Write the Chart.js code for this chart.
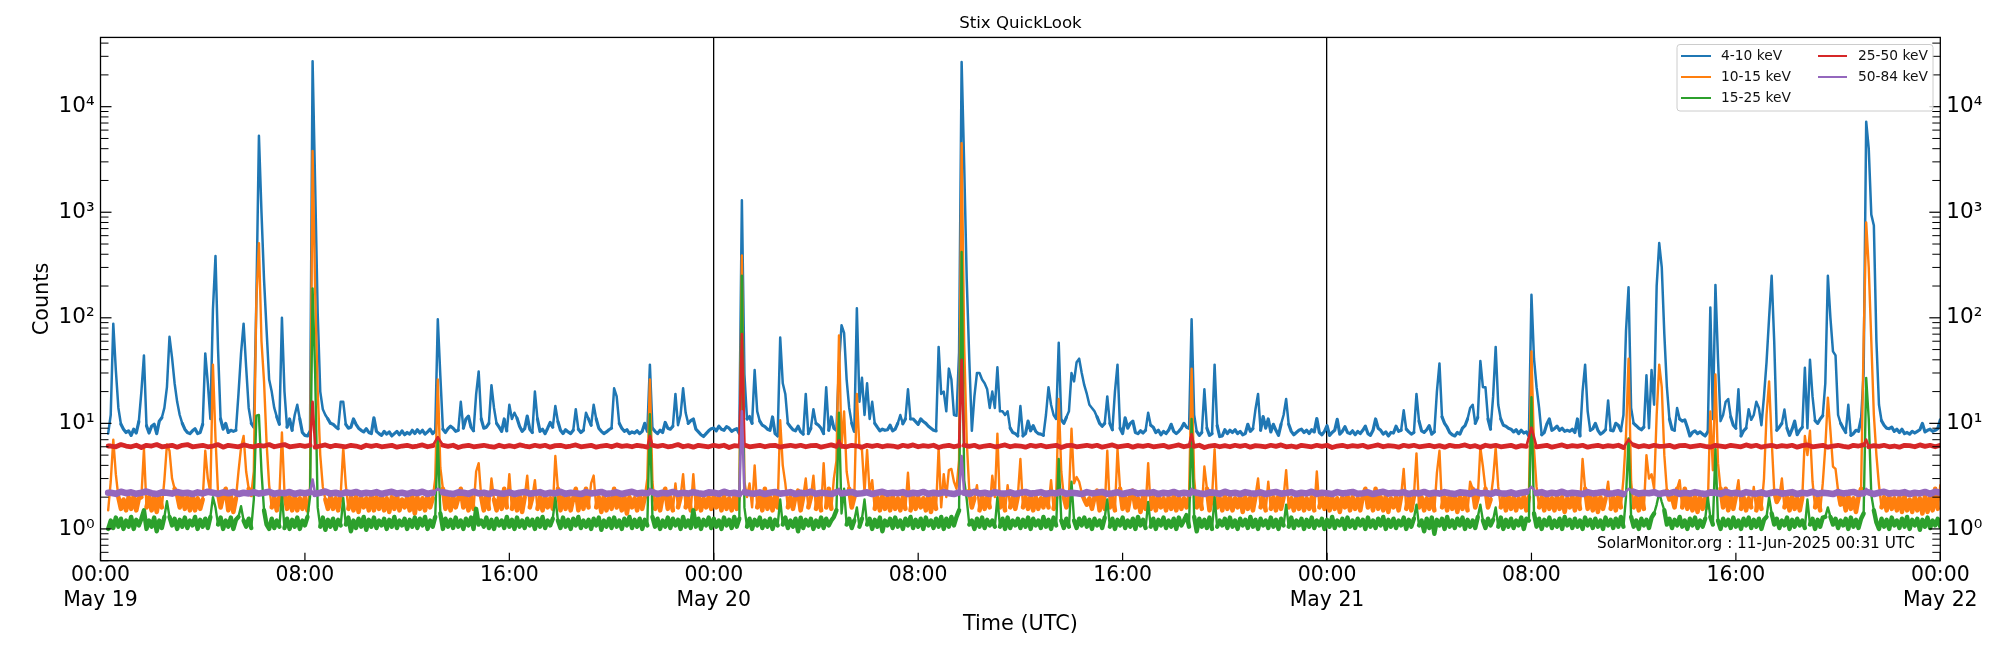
<!DOCTYPE html>
<html><head><meta charset="utf-8">
<style>html,body{margin:0;padding:0;background:#fff}canvas{display:block}</style>
<script src="https://cdn.jsdelivr.net/npm/chart.js@4/dist/chart.umd.min.js"></script>
</head><body><canvas id="c" width="2000" height="650"></canvas>
<script>
const chartTitle="Stix QuickLook", xTitle="Time (UTC)", yTitle="Counts";
const footNote="SolarMonitor.org : 11-Jun-2025 00:31 UTC";
const seriesNames=["4-10 keV","10-15 keV","15-25 keV","25-50 keV","50-84 keV"];
const seriesColors=["#1f77b4","#ff7f0e","#2ca02c","#d62728","#9467bd"];
const xTickHours=[0,8,16,24,32,40,48,56,64,72];
const xTickTimes=["00:00","08:00","16:00","00:00","08:00","16:00","00:00","08:00","16:00","00:00"];
const xTickDates=["May 19","","","May 20","","","May 21","","","May 22"];
const dayLineHours=[24,48];
const yTickValues=[1,10,100,1000,10000];
const yTickLabels=["10⁰","10¹","10²","10³","10⁴"];
const yMinorTicks=[.5,.6,.7,.8,.9,2,3,4,5,6,7,8,9,20,30,40,50,60,70,80,90,200,300,400,500,600,700,800,900,2000,3000,4000,5000,6000,7000,8000,9000,20000,30000,40000];
// one row per hour, 0.1 h apart
const blueCounts=[
null,null,null,8,12,88,32,14,9.8,8.8,
8.2,8.5,7.7,8.8,8.1,10.4,20,44,9.5,8.1,
9.4,9.8,8,10.5,11.3,14,22,66,42,24,
16,12,10,8.8,8.2,8,8.5,8.9,8,8.2,
9.8,46,24,11,120,385,50,11,8.8,10,
8.2,8.6,8.4,8.6,19,46,88,34,14,10,
9.2,150,5300,1000,230,76,26,20,14,11.5,
9.8,100,20,9.2,11,8.6,12,15,11,8.2,
7.7,7.6,8.4,27000,1800,110,20,13.6,12,11,
10,9.8,9.3,8.9,16,16,9.8,9,9.2,11,
9.8,9,8.6,8.3,8.9,8.2,8,11.3,8.4,8,
7.7,8.4,7.9,8.3,7.6,8,8.4,7.8,8.5,7.8,
8.2,7.9,8.6,8,8.7,8.1,8.6,7.9,8.3,8.8,
8,8.5,97,28,8.8,8.2,8.9,9.4,9,8.4,
8.6,16,9,11,11.7,9.2,8.5,18.8,31,11,
9,9.2,10,23,14,10,9.2,8.4,11,8.5,
15,11,12.6,11.2,9.4,8.4,8.9,11.7,8.8,8.2,
20,11,8.4,8.8,8,9,10.2,9.2,14.6,10.4,
8.6,8,8.7,8.3,8,8.6,13.6,8.8,8.2,8.6,
12.6,11,9.6,15,11,9,8.4,8,8.3,8.7,
9,21.5,18,10,9,8.4,8.7,8,8.3,8.1,
8.5,8,8.4,10,8.4,36,9,8.4,8,8.6,
8.2,10.2,9,8.8,9.4,19,9.6,12,21.5,12.6,
10,10.6,11,8.8,8.3,7.8,7.5,8,8.5,8.9,
9,8.5,9.4,8.8,8.6,9.3,9,8.4,8.7,8.9,
8,1300,29,11,11.6,10,32,13,10.5,9.6,
9.3,8.8,8.6,11.5,8,7.6,65,24,19,10,
9.3,8.7,8.5,9.4,8.3,7.9,19,8,9,13.6,
10,9.6,9,8,22,8.6,11.5,9,8.6,36,
85,72,26,14,10,8.4,123,16,27,12,
24,11,16,10,9.2,8.5,8.8,8.6,8.7,9.6,
8.5,8.8,10,12,9.9,11,21,11,11,10.4,
9.8,11,10.4,10,9.4,9,8.6,8.5,53,19,
20,13,33,26,12,11.8,47,26500,2800,230,
40,8.5,18,30,30,26,24,21,14,20,
14,34,13,13,12,13,9,8.2,8,7.6,
14.6,7.6,8,10.5,8.5,9.5,8.4,8,7.9,7.7,
12,22,15,12,11,58,10.8,10,11.4,13,
30,25,38,41,30,23,19,15,14,13,
11.5,10,9.4,10,18,10,8.7,20,36,9,
8,11.3,9,10,10.5,8.2,8,8.5,8.1,8.6,
12.6,9.6,9.2,8.2,8.6,7.8,8.4,8,8.6,9.8,
8.4,8,8.4,9,10,9.2,9,97,12,8.4,
7.7,8.2,21,9,7.7,8,36,9.5,7.5,7.6,
8.7,8,8.6,8.2,8.7,8,8.4,7.8,8,9.8,
8.4,8.9,13.6,19,8.6,11.6,9,11,8.3,9.8,
8.6,7.7,9.8,12,17,9.8,8.4,7.8,8.2,8.6,
8.8,8.2,8.6,8,8.7,8.3,11.1,8.2,7.8,8.4,
9.5,7.7,8.2,8.6,10.9,7.9,8.4,9.3,8.2,8,
8.5,7.8,8.4,8,8.6,9.4,8,7.7,8.6,11,
9,8.6,7.9,8.3,7.6,8.2,8.1,9.4,8.4,8.6,
13.3,8.8,8.3,7.9,8.2,19,10.5,8.5,8.2,8.7,
9.5,7.9,8.3,20,37,11.5,10,9.2,8.2,7.8,
7.6,8.2,7.9,9,9.5,11,14,15,10,11.4,
39,22,22,11,8.8,18,53,15,11,9.6,
9.4,9,8.8,8.3,8.7,8,8.6,8.1,8.3,7.6,
165,41,22,14,7.8,8.2,9.8,11,8.6,8.9,
9.4,8.6,9,8.4,8.6,8.4,8.8,8.2,11,7.6,
20,36,13,8.6,8.9,10,8.6,7.9,8.2,8.7,
16.5,8.6,8.5,10,9.6,8.5,12,75,195,14,
10,9.5,9,8.7,9.2,28.5,9,32,15,200,
510,300,70,22,11,8.8,8.6,14,11,10.5,
10.8,9.2,7.6,8.2,8.5,8,8.3,7.9,7.6,8.3,
125,11,205,41,10.5,12,16,17,11.5,9.6,
9,21,7.6,8.5,9,13.6,10.8,12,16,14,
9.6,18,38,100,250,60,8.6,9.2,10,13.5,
9,7.7,8.8,10.5,7.8,8.6,9.2,33.6,9,40,
18,10.6,10,11,11.8,24,250,100,48,44,
12,10,9,8.2,15,7.7,8,8.6,8.4,11,
30,7200,4000,950,750,60,15,10.6,9.6,9,
8.9,9.2,8.4,8.8,8.2,8.8,8,8.2,7.9,8.4,
8.1,8.4,8.7,10,8.3,8.6,8.8,8.4,8.6,8.9,
10.8];
const orangeCounts=[
null,null,null,1.5,2.8,7,3.3,2,1.55,1.9,
1.5,2,1.55,2.05,1.5,1.95,2,5.7,1.6,2,
1.5,2.05,1.45,2,1.6,2.9,6.3,5.5,3,2.4,
2.1,1.6,2.05,1.55,2,1.5,2.05,1.5,1.95,1.55,
1.9,5.5,3,2.2,36,7.3,2.2,1.6,2.05,2.4,
1.5,2.05,1.45,1.95,3.5,5.9,7.6,3.5,2.4,2.1,
3.5,150,510,60,25,6.5,2.6,1.6,2,1.5,
2,8.2,2.2,1.55,2,1.5,2.05,1.5,1.95,1.55,
2,1.5,2.5,3800,180,20,5,2.5,1.9,1.55,
2.05,1.55,1.95,1.5,2.1,5.9,2.6,1.55,2,1.5,
2.05,1.45,2,1.6,1.95,1.5,2.1,1.5,2,1.55,
2.05,1.5,1.95,1.45,2,1.55,2.1,1.5,1.9,1.6,
2,1.5,2.05,1.4,2,1.55,1.95,1.5,2.05,1.6,
1.95,3,26,3.8,2.4,1.55,2,1.5,2.05,1.6,
1.95,2.4,1.6,2,1.5,2.05,1.55,3.5,4.2,2,
1.5,2.05,1.55,3,1.9,1.5,2,1.55,2.4,1.6,
3.3,1.55,2,1.5,2.05,1.45,2,3.2,1.6,2,
2.9,1.55,2,1.5,2.05,1.6,1.95,1.55,4.9,2.4,
1.5,2,1.55,2.05,1.5,1.95,2.4,1.5,2,1.55,
2.4,1.6,2.7,3.2,1.6,2,1.45,2.05,1.5,1.95,
1.55,2.4,1.6,2,1.5,2.05,1.4,2,1.6,1.95,
1.5,2.05,1.55,2,3,26,2.8,1.55,2,1.5,
2.05,2.4,1.55,2,1.5,2.7,1.6,2,3.3,1.6,
2,1.5,3.3,1.55,2.05,1.5,1.95,1.6,2,1.55,
2.05,1.6,2,1.5,2.05,1.55,1.95,1.5,2,1.55,
2.2,390,2.8,2,2.7,1.6,4,1.6,2,1.5,
2.4,1.55,2,1.5,2.05,1.6,10.7,4,2.7,1.6,
2,1.55,2.05,2.3,1.5,2,3,1.6,2,3.2,
1.55,2,1.5,4.2,1.6,2.4,1.55,3,4.4,68,
5.9,13,3.5,2.4,1.6,2,19,5.9,5.6,2.2,
5.6,2.2,2.9,1.55,2,1.5,2.05,1.55,2,1.5,
2.05,1.55,1.95,1.5,2,1.55,3.4,1.5,2.05,1.55,
2,1.6,1.95,1.5,2.05,1.45,2,1.55,5.9,1.6,
3.3,2,3.6,3.7,2.8,2.4,4.5,4500,56,6.8,
2.3,1.6,1.95,2.6,1.5,2.05,1.55,2,1.6,3.2,
2,8,1.6,2.05,1.5,2.6,1.6,2,1.55,2.05,
4.6,1.6,2,1.55,2.05,1.5,2,1.55,1.95,1.6,
2.2,1.6,2.9,1.55,2,17,3.5,2,1.6,2,
8.9,2.7,3.1,2.8,2.2,1.9,1.7,1.95,1.55,2,
2.3,1.5,2.05,1.55,5.5,1.6,2,1.5,5.7,2.4,
1.55,2,1.5,2.05,2.3,1.6,1.95,1.45,2,1.55,
4.2,1.55,2,1.5,2.05,1.6,1.95,1.5,2,1.55,
2.05,1.5,2,1.55,1.95,1.6,2,33,3,1.6,
2,1.55,3.9,2.4,1.5,2,5.7,1.6,1.95,1.5,
2.05,1.55,2,1.5,1.95,1.6,2.05,1.45,2,1.55,
2,1.5,2.05,3,1.6,2,1.5,2.8,1.55,2,
1.5,2.05,1.55,2,3.6,1.6,1.95,1.5,2,1.55,
2.05,1.5,1.95,1.55,2,1.5,3.5,1.6,2,1.55,
2.05,1.5,2,1.55,1.95,1.45,2,1.6,2.05,1.5,
2,1.55,1.95,1.5,2.05,2.4,1.6,2,1.5,2.4,
1.55,2,1.5,2.05,1.45,1.95,1.6,2,1.5,2.05,
3.7,1.55,2,1.5,2.05,5.2,1.6,2,1.5,1.95,
1.55,2.05,1.5,3.4,5.5,1.6,2,1.5,2.05,1.55,
2,1.45,2,1.55,2.05,1.5,2.8,2.4,1.6,2,
5.9,3.9,2.4,1.6,1.9,3,5.9,2.5,1.6,2,
1.5,2.05,1.55,2,1.5,1.95,1.6,2.05,1.5,2,
48,5.7,2.5,1.6,2,1.5,2.05,1.55,1.95,1.5,
2.05,1.55,2,1.45,1.95,1.6,2.05,1.5,2,1.55,
4.6,2.4,1.55,2,1.5,2.05,1.45,2,1.55,1.95,
2.8,1.55,2,1.5,2.05,1.6,3,7.6,41,2.8,
1.6,2,1.5,2.05,1.55,5,3,3.3,2.4,12,
36,22,5,2.3,1.9,2,1.6,2.4,2.9,1.6,
2.4,1.55,2,1.5,2.05,1.45,2,1.55,1.95,1.6,
13,3.6,29,4.2,2.4,1.6,2.4,1.5,2,1.55,
2.05,2.9,1.55,2,1.5,1.95,1.6,2.5,1.5,2.05,
1.55,3,12,25,7,2.3,1.8,2,3,1.6,
2,1.5,2.05,1.55,1.95,1.5,2,7.6,5,8.5,
2.8,1.6,2,1.5,2.7,6,17.5,8.5,3.9,3.7,
2.3,1.7,2,1.5,2.05,1.55,1.95,1.45,2,2.4,
60,800,300,60,12,5,2.6,1.6,2,1.5,
2.05,1.55,1.95,1.5,2,1.45,2.05,1.5,1.9,1.45,
2,1.5,1.95,1.4,2.05,1.45,2,1.5,2.4,1.55,
2.6];
const greenCounts=[
null,null,null,1,1.2,1.02,1.28,1.05,1.25,1,
1.2,1.05,1.3,1,1.22,1.08,1.25,1.5,1,1.2,
1.05,1.28,.95,1.2,1.02,1.3,1.83,1.3,1.08,1.25,
1,1.22,1.05,1.28,1.02,1.2,1.08,1.3,1,1.22,
1.05,1.25,1.02,1.3,2,1.6,1.1,1.28,1,1.2,
1.05,1.28,1,1.22,1.3,1.64,1.2,1.05,1.25,1.02,
1.9,11.8,12,3.5,1.5,1.1,1,1.25,1.02,1.2,
1.05,2.1,1.02,1.25,1,1.22,1.05,1.28,1,1.2,
1.08,1.3,2,190,30,1.6,1.05,1.28,.98,1.22,
1.05,1.25,1,1.22,1.08,1.97,1.1,1.28,.95,1.2,
1.02,1.25,1.05,1.3,.98,1.22,1.05,1.28,1.02,1.2,
1.08,1.25,1,1.22,1.05,1.3,1.02,1.2,1.08,1.25,
1,1.22,1.05,1.28,1.02,1.25,1.08,1.3,1,1.2,
1.05,1.3,7.3,1.4,1,1.25,1.05,1.22,1.02,1.28,
1.05,1.2,1,1.25,1.08,1.28,1,1.55,1.1,1.2,
1.05,1.28,1.02,1.22,1,1.25,1.08,1.2,1.02,1.3,
1.05,1.22,1,1.28,1.05,1.2,1.02,1.25,1.08,1.22,
1,1.25,1.05,1.3,1.02,1.2,1.08,1.25,2,1.2,
1.02,1.28,1.05,1.22,1,1.25,1.08,1.3,1.02,1.2,
1.05,1.22,1,1.25,1.08,1.28,.98,1.2,1.05,1.25,
1.02,1.28,1.05,1.2,1,1.25,1.08,1.3,1.02,1.22,
1.05,1.25,1,1.22,1.08,12.2,1.3,1.05,1.25,1,
1.2,1.05,1.28,1.02,1.25,1.08,1.22,1,1.3,1.05,
1.2,1.02,1.5,1.05,1.25,1,1.22,1.08,1.28,1.02,
1.25,1.05,1.2,1,1.28,1.08,1.22,1.02,1.3,1.05,
1.25,250,1.6,1.05,1.25,1,1.22,1.08,1.28,1.02,
1.2,1.05,1.25,1,1.22,1.08,1.9,1.1,1.28,1.02,
1.2,1.05,1.25,.95,1.28,1.02,1.22,1.08,1.25,1,
1.2,1.05,1.28,1.02,1.25,1.08,1.2,1.3,1.5,12.6,
1.4,2.4,1.1,1.25,1.02,1.2,1.6,1.05,1.25,1.9,
1.1,1.25,1,1.22,1.05,1.28,.95,1.2,1.08,1.25,
1.02,1.28,1.05,1.2,1,1.25,1.08,1.3,1.02,1.22,
1.05,1.25,1,1.28,1.08,1.2,1.02,1.25,1.05,1.3,
1,1.25,1.05,1.3,1.08,1.3,1.5,420,2.9,1.9,
1.1,1.2,1,1.25,1.05,1.28,1.02,1.22,1.08,1.2,
1.05,2,1.05,1.25,1,1.28,1.02,1.2,1.08,1.25,
1.02,1.22,1.05,1.28,1,1.25,1.08,1.2,1.02,1.3,
1.05,1.22,1,1.28,1.08,4.6,1.2,1.02,1.25,1.05,
2.8,1.2,1.02,1.25,1.08,1.28,1.05,1.22,1,1.25,
1.08,1.2,1.02,1.28,1.9,1.05,1.25,1,1.22,1.08,
1.28,1.02,1.2,1.05,1.25,1,1.3,1.08,1.22,1.02,
1.8,1.05,1.25,1,1.22,1.08,1.28,1.02,1.2,1.05,
1.25,1,1.28,1.08,1.2,1.35,1.05,11,1.3,.95,
1.25,1.05,1.22,1.02,1.28,1,2,1.05,1.2,1.08,
1.25,1.02,1.28,1.05,1.2,1,1.25,1.08,1.22,1.02,
1.3,1.05,1.22,1,1.25,1.08,1.2,1.02,1.28,1.05,
1.22,1,1.25,1.08,1.7,1.05,1.28,1.02,1.2,1.08,
1.25,1,1.22,1.05,1.28,1.02,1.2,1.08,1.25,1,
1.22,1.05,1.3,1.02,1.2,1.08,1.25,1,1.28,1.05,
1.2,1.02,1.25,1.08,1.22,1,1.28,1.05,1.2,1.02,
1.25,1.08,1.3,1,1.22,1.05,1.25,1.02,1.2,1.08,
1.28,1,1.22,1.05,1.25,1.7,1.08,1.2,.95,1.25,
1.02,1.28,.9,1.22,1.08,1.25,1,1.3,1.05,1.2,
1.02,1.25,1.08,1.28,1,1.22,1.05,1.2,1.02,1.3,
1.7,1.2,1.02,1.25,1.08,1.22,1.6,1.05,1.28,1,
1.22,1.05,1.25,1.02,1.2,1.08,1.28,1,1.25,1.2,
17.7,1.4,1.05,1.25,1,1.22,1.08,1.28,1.02,1.2,
1.05,1.25,1,1.3,1.08,1.22,1.02,1.25,1.05,1.2,
1,1.28,1.08,1.22,1.02,1.25,1.05,1.2,1,1.28,
1.08,1.22,1.02,1.25,1.05,1.3,1.05,2,7.2,1.3,
1.05,1.2,1,1.25,1.08,1.22,1.02,1.28,1.4,1.7,
2.2,1.8,1.5,1.1,1.25,1.02,1.22,1.08,1.3,1.05,
1.2,1,1.25,1.08,1.28,1.02,1.2,1.05,1.25,2,
1.3,1.1,5.7,1.2,1,1.25,1.08,1.22,1.02,1.28,
1.05,1.2,1,1.25,1.08,1.28,1.02,1.22,1.05,1.25,
1,1.22,1.3,2,1.4,1.1,1.25,1.02,1.2,1.08,
1.28,1,1.22,1.05,1.25,1.08,1.2,1.02,1.9,1.1,
1.25,1,1.22,1.05,1.28,1.3,1.6,1.3,1.1,1.25,
1.02,1.2,1.08,1.25,1,1.28,1.05,1.22,1.02,1.25,
1.4,27,11,2.1,1.5,1.15,1,1.25,1.05,1.22,
1,1.28,1.08,1.2,1.02,1.25,1.05,1.3,1,1.22,
1.08,1.25,.98,1.22,1.05,1.28,1.02,1.2,1.08,1.25,
1.05];
// one row per hour, 0.2 h apart; peaks are listed apart
const redCounts=[
null,null,6.1,6,6.3,6.1,6,6.2,5.9,6.2,6.1,6.3,6,6.1,6.2,5.95,6.2,6.3,6,6.1,
6.2,6,6.1,6.3,5.95,6.2,6.1,6,6.25,6.1,6,6.2,6.1,6.3,6,6.15,6.3,6,6.1,6.2,
6.05,6.2,5.95,6.1,6.25,6,6.2,6.1,6,6.2,6.1,5.9,6.2,6.05,6.2,6,6.1,6.2,5.95,6.1,
6.2,6,6.1,6.25,6,6.15,6,6.2,6.05,6.2,5.9,6.1,6.2,6,6.1,6.2,6.05,5.95,6.2,6,
6.15,6,6.25,6.1,6,6.2,6.05,6.2,5.95,6.15,6.2,6,6.1,6.25,6,6.1,6.2,5.95,6.1,6.2,
6,6.25,6.05,6.15,6,6.2,6.1,5.95,6.2,6.05,6.2,6,6.1,6.3,6,6.15,5.95,6.2,6.1,6,
6.2,6.05,6.2,5.9,6.15,6.1,6.25,6,6.1,6.2,6,6.15,6.2,5.95,6.1,6.2,6.05,6.2,6,6.15,
6.2,5.95,6.1,6.25,6.05,6.1,6,6.2,6.1,5.95,6.2,6.05,6.2,6,6.15,6.1,5.95,6.2,6.05,6.25,
6,6.15,6.05,6.2,5.9,6.1,6.2,6,6.15,6.2,6.05,6.2,5.95,6.1,6.2,6,6.1,6.25,6,6.15,
6.1,5.95,6.2,6.05,6.2,6,6.1,6.2,5.9,6.15,6.2,6,6.1,6.2,6.05,6.2,5.95,6.1,6.25,6,
6.1,6.2,5.95,6.15,6.05,6.2,6,6.1,6.2,5.95,6.1,6.25,6,6.15,6.05,6.2,5.9,6.1,6.2,6,
6.15,6,6.2,6.05,6.2,5.95,6.15,6.1,6,6.2,6.05,6.25,6,6.1,5.95,6.2,6.1,6,6.2,6.05,
6.2,5.9,6.1,6.2,6,6.15,6.05,6.2,5.95,6.1,6.25,6,6.15,6.1,5.95,6.2,6.05,6.2,6,6.1,
6.2,6,6.15,5.95,6.2,6.05,6.1,6.25,6,6.15,5.9,6.2,6.05,6.2,6,6.1,6.2,5.95,6.15,6.05,
6.2,6,6.1,6.2,5.95,6.1,6.25,6,6.15,6.05,6.2,5.95,6.1,6.2,6,6.15,6.05,6.2,5.9,6.1,
6.25,6,6.15,6,6.2,6.05,6.1,6.2,5.95,6.15,6.2,6,6.1,6.2,6.05,5.95,6.2,6.1,6,6.2,
6.1,6,6.25,6.05,6.2,5.95,6.1,6.2,6,6.15,6.05,6.2,5.95,6.15,6.25,6,6.1,6.2,5.95,6.1,
6.2,6.05,5.95,6.2,6.1,6.25,6,6.15,6.05,6.2,6,6.1,5.95,6.2,6.15,6,6.25,6.05,6.2,6,
6.2];
const redPeakHours=[0.3,8.3,13.2,21.5,25.1,28.9,33.7,42.7,56,59.8,69.1];
const redPeakCounts=[6.1,16,7.4,7.6,70,6.9,40,7.9,9.1,7,7];
const purpleCounts=[
null,null,2.2,2.15,2.25,2.18,2.22,2.15,2.2,2.26,2.18,2.14,2.22,2.2,2.16,2.24,2.18,2.2,2.14,2.22,
2.17,2.25,2.2,2.15,2.22,2.18,2.24,2.14,2.2,2.17,2.23,2.16,2.2,2.25,2.15,2.2,2.18,2.24,2.14,2.21,
2.18,2.23,2.15,2.2,2.26,2.16,2.2,2.14,2.22,2.18,2.24,2.15,2.2,2.17,2.23,2.14,2.2,2.25,2.16,2.2,
2.14,2.22,2.18,2.25,2.15,2.2,2.16,2.23,2.18,2.14,2.22,2.2,2.15,2.25,2.17,2.2,2.14,2.23,2.18,2.16,
2.22,2.14,2.2,2.24,2.16,2.19,2.23,2.14,2.2,2.17,2.25,2.15,2.2,2.18,2.14,2.23,2.17,2.2,2.24,2.15,
2.18,2.22,2.14,2.2,2.25,2.16,2.2,2.18,2.23,2.14,2.2,2.17,2.24,2.15,2.2,2.16,2.23,2.18,2.14,2.22,
2.2,2.15,2.25,2.17,2.2,2.14,2.23,2.18,2.16,2.22,2.14,2.2,2.24,2.16,2.19,2.23,2.14,2.2,2.17,2.25,
2.15,2.2,2.18,2.14,2.23,2.17,2.2,2.24,2.15,2.18,2.22,2.14,2.2,2.25,2.16,2.2,2.18,2.23,2.14,2.2,
2.17,2.24,2.15,2.2,2.16,2.23,2.18,2.14,2.22,2.2,2.15,2.25,2.17,2.2,2.14,2.23,2.18,2.16,2.22,2.14,
2.2,2.24,2.16,2.19,2.23,2.14,2.2,2.17,2.25,2.15,2.2,2.18,2.14,2.23,2.17,2.2,2.24,2.15,2.18,2.22,
2.14,2.2,2.25,2.16,2.2,2.18,2.23,2.14,2.2,2.17,2.24,2.15,2.2,2.16,2.23,2.18,2.14,2.22,2.2,2.15,
2.25,2.17,2.2,2.14,2.23,2.18,2.16,2.22,2.14,2.2,2.24,2.16,2.19,2.23,2.14,2.2,2.17,2.25,2.15,2.2,
2.18,2.14,2.23,2.17,2.2,2.24,2.15,2.18,2.22,2.14,2.2,2.25,2.16,2.2,2.18,2.23,2.14,2.2,2.17,2.24,
2.15,2.2,2.16,2.23,2.18,2.14,2.22,2.2,2.15,2.25,2.17,2.2,2.14,2.23,2.18,2.16,2.22,2.14,2.2,2.24,
2.16,2.19,2.23,2.14,2.2,2.17,2.25,2.15,2.2,2.18,2.14,2.23,2.17,2.2,2.24,2.15,2.18,2.22,2.14,2.2,
2.25,2.16,2.2,2.18,2.23,2.14,2.2,2.17,2.24,2.15,2.2,2.16,2.23,2.18,2.14,2.22,2.2,2.15,2.25,2.17,
2.2,2.14,2.23,2.18,2.16,2.22,2.14,2.2,2.24,2.16,2.19,2.23,2.14,2.2,2.17,2.25,2.15,2.2,2.18,2.14,
2.23,2.17,2.2,2.24,2.15,2.18,2.22,2.14,2.2,2.25,2.16,2.2,2.18,2.23,2.14,2.2,2.17,2.24,2.15,2.25,
2.2];
const purplePeakHours=[0.3,8.3,13.2,21.5,25.1,28.9,33.7,42.7,56,59.8,69.1];
const purplePeakCounts=[2.2,2.94,2.4,2.4,13,2.4,4.9,2.4,2.5,2.4,2.4];

const FONT="'DejaVu Sans'";
function onGrid(values,step){return values.map((y,i)=>({x:Math.round(i*step*10)/10,y}));}
function withPeaks(points,hours,counts){
  const byHour=new Map(points.filter(p=>p.y!==null).map(p=>[p.x,p.y]));
  hours.forEach((h,i)=>byHour.set(h,counts[i]));
  return [...byHour.entries()].sort((a,b)=>a[0]-b[0]).map(([x,y])=>({x,y}));
}
const seriesData=[
  onGrid(blueCounts,0.1),onGrid(orangeCounts,0.1),onGrid(greenCounts,0.1),
  withPeaks(onGrid(redCounts,0.2),redPeakHours,redPeakCounts),
  withPeaks(onGrid(purpleCounts,0.2),purplePeakHours,purplePeakCounts)];
// line width inside the noise band and on the flares
const bandLimits=[12,2.45,1.6,6.6,2.32];
const bandWidths=[3.2,4.6,4.4,4.8,6.6];
const flareWidths=[2.5,2.4,2.4,2.6,2.6];

const frameAndTicks={id:'frameAndTicks',afterDatasetsDraw(chart){
  const {ctx,chartArea:a,scales}=chart;
  ctx.save();ctx.strokeStyle='#000';
  const mark=(x1,y1,x2,y2,w)=>{ctx.lineWidth=w;ctx.beginPath();ctx.moveTo(x1,y1);ctx.lineTo(x2,y2);ctx.stroke();};
  yTickValues.forEach(v=>{const y=scales.y.getPixelForValue(v);mark(a.left,y,a.left+11,y,1.2);mark(a.right,y,a.right-11,y,1.2);});
  yMinorTicks.forEach(v=>{const y=scales.y.getPixelForValue(v);mark(a.left,y,a.left+8,y,1);mark(a.right,y,a.right-8,y,1);});
  xTickHours.forEach(h=>{const x=scales.x.getPixelForValue(h);mark(x,a.bottom,x,a.bottom-8,1.2);});
  ctx.lineWidth=1.3;ctx.strokeRect(a.left,a.top,a.right-a.left,a.bottom-a.top);
  ctx.restore();
},afterDraw(chart){
  const {ctx}=chart;ctx.save();
  ctx.font='15.25px '+FONT;ctx.fillStyle='#000';ctx.textAlign='left';ctx.textBaseline='middle';
  ctx.fillText(footNote,1597,544);
  ctx.beginPath();ctx.roundRect(1677,44.5,256,66.5,3);
  ctx.fillStyle='rgba(255,255,255,0.8)';ctx.fill();ctx.strokeStyle='#cccccc';ctx.lineWidth=1;ctx.stroke();
  ctx.font='13.8px '+FONT;
  const cols=[[1681,1711,1721],[1818,1847,1858]],rows=[56,77,98];
  seriesNames.forEach((n,i)=>{
    const c=cols[i<3?0:1],y=rows[i<3?i:i-3];
    ctx.strokeStyle=seriesColors[i];ctx.lineWidth=2;ctx.beginPath();ctx.moveTo(c[0],y);ctx.lineTo(c[1],y);ctx.stroke();
    ctx.fillStyle='#111';ctx.fillText(n,c[2],y+0.5);
  });
  ctx.restore();
}};

new Chart(document.getElementById('c'),{
  type:'line',
  data:{datasets:seriesNames.map((label,i)=>({
    label,data:seriesData[i],borderColor:seriesColors[i],backgroundColor:seriesColors[i],
    borderWidth:bandWidths[i],pointRadius:0,tension:0,borderJoinStyle:'round',borderCapStyle:'round',spanGaps:false,order:5-i,
    segment:{borderWidth:c=>(c.p0.parsed.y<bandLimits[i]&&c.p1.parsed.y<bandLimits[i])?bandWidths[i]:flareWidths[i]}
  }))},
  options:{
    responsive:false,devicePixelRatio:1,animation:false,
    layout:{padding:0},
    plugins:{
      legend:{display:false},tooltip:{enabled:false},
      title:{display:true,text:chartTitle,fullSize:false,color:'#000',font:{family:FONT,size:16.6,weight:'normal'},padding:{top:14,bottom:3.5}}
    },
    scales:{
      x:{type:'linear',min:0,max:72,
        afterBuildTicks(s){s.ticks=xTickHours.map(v=>({value:v}));},
        afterFit(s){s.height=89.3;},
        border:{display:false},
        grid:{drawTicks:false,lineWidth:1.3,color:c=>c.tick&&dayLineHours.includes(c.tick.value)?'#000':'rgba(0,0,0,0)'},
        ticks:{autoSkip:false,maxRotation:0,padding:3,color:'#000',font:{family:FONT,size:20.4},
          callback(v){const i=xTickHours.indexOf(v);return xTickDates[i]?[xTickTimes[i],xTickDates[i]]:xTickTimes[i];}},
        title:{display:true,text:xTitle,color:'#000',font:{family:FONT,size:20.8},padding:{top:0,bottom:13}}
      },
      y:{type:'logarithmic',position:'left',min:0.5,max:45300,
        afterBuildTicks(s){s.ticks=yTickValues.map(v=>({value:v}));},
        afterFit(s){s.width=100.5;},
        border:{display:false},grid:{display:false,drawTicks:false},
        ticks:{autoSkip:false,padding:6,color:'#000',font:{family:FONT,size:21.5},callback(v){return yTickLabels[yTickValues.indexOf(v)];}},
        title:{display:true,text:yTitle,color:'#000',font:{family:FONT,size:20.8},padding:{top:30,bottom:0}}
      },
      yRight:{type:'logarithmic',position:'right',min:0.5,max:45300,
        afterBuildTicks(s){s.ticks=yTickValues.map(v=>({value:v}));},
        afterFit(s){s.width=59.7;},
        border:{display:false},grid:{display:false,drawTicks:false},
        ticks:{autoSkip:false,padding:6,color:'#000',font:{family:FONT,size:21.5},callback(v){return yTickLabels[yTickValues.indexOf(v)];}}
      }
    }
  },
  plugins:[frameAndTicks]
});
</script></body></html>
